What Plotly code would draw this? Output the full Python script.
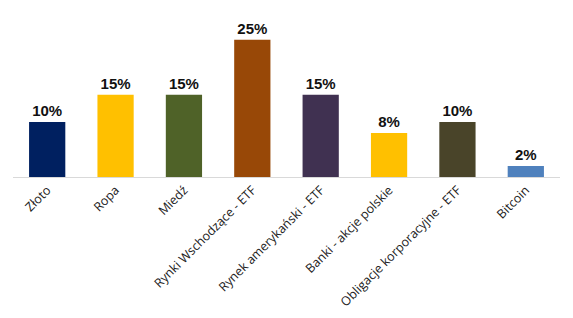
import plotly.graph_objects as go

categories = ["Złoto", "Ropa", "Miedź", "Rynki Wschodzące - ETF", "Rynek amerykański - ETF",
              "Banki - akcje polskie", "Obligacje korporacyjne - ETF", "Bitcoin"]
values = [10, 15, 15, 25, 15, 8, 10, 2]
labels = ["10%", "15%", "15%", "25%", "15%", "8%", "10%", "2%"]
colors = ["#002060", "#FFC000", "#4F6228", "#984807", "#403151", "#FFC000", "#494429", "#4F81BD"]

fig = go.Figure(go.Bar(
    x=categories, y=values, text=labels, textposition="outside",
    marker=dict(color=colors, line=dict(width=0)),
    textfont=dict(family="Liberation Sans", size=15, color="#111111"),
    cliponaxis=False, width=0.53,
))
fig.update_traces(texttemplate="<b>%{text}</b>")
fig.update_layout(
    width=573, height=318,
    margin=dict(l=13, r=13, t=20, b=141, autoexpand=False),
    paper_bgcolor="white", plot_bgcolor="white",
    showlegend=False,
    xaxis=dict(tickangle=-45, showline=True, linecolor="#D9D9D9", linewidth=1,
               tickfont=dict(family="Open Sans", size=12.5, color="#222222"),
               showgrid=False, ticks="", automargin=False),
    yaxis=dict(visible=False, range=[0, 28.6], automargin=False),
)
fig.write_html("out.html")
